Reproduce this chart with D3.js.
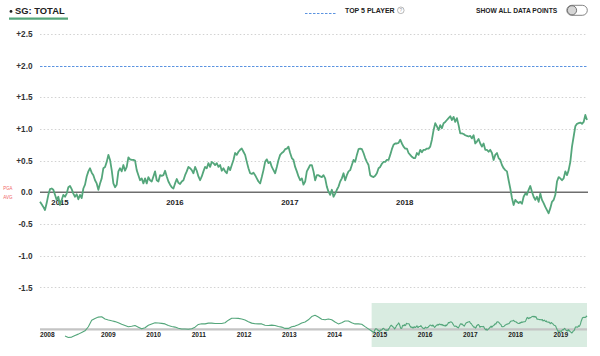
<!DOCTYPE html>
<html><head><meta charset="utf-8">
<script src="https://cdn.jsdelivr.net/npm/d3@7"></script>
<style>
html,body{margin:0;padding:0;background:#fff;}
svg{display:block;font-family:"Liberation Sans",Arial,sans-serif;}
</style></head><body>
<svg id="chart" width="600" height="356"></svg>
<script>
// ---- data ----
const titleText = "SG: TOTAL";
const legendText = "TOP 5 PLAYER";
const toggleText = "SHOW ALL DATA POINTS";
const yTicks = [2.5, 2.0, 1.5, 1.0, 0.5, 0.0, -0.5, -1.0, -1.5];
const top5Value = 2.0;
const pgaAvgValue = 0.0;
const mainYears = [2015, 2016, 2017, 2018];
const miniYears = [2009, 2010, 2011, 2012, 2013, 2014, 2015, 2016, 2017, 2018, 2019];
const fullRange = [2007.5, 2019.59];
const recentRange = [2014.83, 2019.59];
const historyStart = 2008.053, historyStep = 0.07368;
const historyValues = [
 -0.60,-0.74,-0.70,-0.55,-0.43,-0.28,-0.13,0.24,0.83,1.00,1.12,1.15,0.95,0.86,0.78,0.71,0.60,0.46,0.35,0.24,
 0.28,0.35,0.20,0.05,0.15,0.38,0.50,0.60,0.58,0.55,0.50,0.35,0.27,0.21,0.10,0.03,0.03,0.01,0.06,0.20,
 0.45,0.52,0.50,0.57,0.57,0.54,0.54,0.54,0.60,0.84,1.02,1.02,1.00,0.95,0.86,0.70,0.57,0.52,0.50,0.50,
 0.38,0.35,0.39,0.35,0.27,0.21,0.09,0.09,0.24,0.30,0.42,0.58,0.68,0.87,1.17,1.28,1.12,0.92,0.87,0.95,
 0.88,0.68,0.50,0.60,0.76,0.76,0.60,0.50,0.50,0.47,0.25,0.05
];
const recentValues = [
 -0.15,-0.19,-0.23,-0.28,-0.17,-0.04,0.05,0.06,0.04,-0.04,-0.12,-0.07,-0.20,-0.12,-0.04,-0.07,-0.02,0.08,0.10,0.05,
 -0.02,-0.07,-0.03,-0.11,-0.04,-0.09,0.06,0.12,0.25,0.33,0.38,0.31,0.27,0.19,0.14,0.04,0.14,0.22,0.38,0.40,
 0.48,0.59,0.51,0.35,0.14,0.08,0.12,0.33,0.38,0.33,0.43,0.34,0.40,0.55,0.52,0.51,0.51,0.50,0.35,0.27,
 0.19,0.22,0.14,0.22,0.14,0.24,0.19,0.17,0.25,0.33,0.19,0.17,0.27,0.26,0.27,0.34,0.25,0.17,0.12,0.08,
 0.06,0.14,0.21,0.15,0.13,
 0.17,0.19,0.27,0.33,0.40,0.38,0.35,0.30,0.40,0.34,0.25,0.19,0.25,0.33,0.40,0.38,0.46,0.40,0.48,0.46,
 0.43,0.46,0.40,0.43,0.34,0.38,0.33,0.30,0.40,0.35,0.43,0.51,0.62,0.59,0.64,0.67,0.69,0.64,0.59,0.48,
 0.38,0.30,0.29,0.31,0.27,0.22,0.17,0.14,0.24,0.35,0.48,0.52,0.46,0.48,0.40,0.35,0.30,0.40,0.51,0.59,
 0.62,0.64,0.68,0.69,0.72,0.62,0.54,0.51,0.40,0.33,0.25,0.19,0.22,0.12,0.17,0.33,0.38,0.43,0.43,0.33,
 0.19,0.27,0.27,0.25,
 0.24,0.27,0.22,0.09,0.01,-0.04,0.04,-0.07,-0.02,0.04,0.09,0.17,0.22,0.30,0.19,0.27,0.33,0.35,0.43,0.51,
 0.48,0.59,0.68,0.69,0.68,0.62,0.54,0.48,0.43,0.27,0.25,0.24,0.26,0.30,0.38,0.40,0.45,0.48,0.48,0.51,
 0.51,0.59,0.68,0.75,0.77,0.77,0.78,0.83,0.77,0.72,0.69,0.69,0.62,0.59,0.56,0.54,0.54,0.62,0.59,0.67,
 0.63,0.67,0.67,0.69,0.69,0.72,0.83,0.98,1.09,1.04,0.98,1.06,1.01,1.09,1.11,1.14,1.17,1.20,1.14,1.19,
 1.11,1.17,1.06,0.93,
 0.93,0.92,0.90,0.89,0.88,0.89,0.85,0.90,0.77,0.80,0.84,0.77,0.72,0.77,0.67,0.67,0.64,0.67,0.62,0.51,
 0.59,0.62,0.54,0.51,0.43,0.38,0.35,0.33,0.19,0.06,-0.09,-0.20,-0.12,-0.15,-0.17,-0.15,-0.18,-0.07,-0.02,-0.04,
 0.04,0.10,0.01,-0.07,-0.12,-0.07,-0.15,-0.02,-0.12,-0.17,-0.23,-0.28,-0.33,-0.25,-0.15,-0.12,-0.04,0.17,0.24,0.22,
 0.19,0.22,0.33,0.27,0.35,0.48,0.72,0.88,1.04,1.08,1.09,1.10,1.08,1.11,1.22,1.14
];

// ---- build series (x = fractional year) ----
const history = historyValues.map((v, i) => ({t: historyStart + i * historyStep, v}));
const recent = recentValues.map((v, i) => ({
  t: recentRange[0] + i * (recentRange[1] - recentRange[0]) / (recentValues.length - 1), v}));
const allData = history.concat(recent);

const green = "#54a67b";
const blue = "#5b93e0";
const svg = d3.select("#chart");

// ---- main chart ----
const x = d3.scaleLinear().domain(recentRange).range([40, 587]);
const y = d3.scaleLinear().domain([-1.5, 2.5]).range([287.4, 33.8]);

const grid = svg.append("g");
grid.selectAll("line").data(yTicks.filter(d => d !== top5Value && d !== pgaAvgValue)).join("line")
  .attr("x1", 40).attr("x2", 587)
  .attr("y1", d => Math.round(y(d)) + 0.5).attr("y2", d => Math.round(y(d)) + 0.5)
  .attr("stroke", "#d2d2d2").attr("stroke-width", 1).attr("stroke-dasharray", "1.5,2.2");

svg.append("line")
  .attr("x1", 40).attr("x2", 587).attr("y1", Math.round(y(top5Value)) + 0.5).attr("y2", Math.round(y(top5Value)) + 0.5)
  .attr("stroke", blue).attr("stroke-width", 1).attr("stroke-dasharray", "2.5,1.5");

const fmt = d => d === 0 ? "0.0" : (d > 0 ? "+" : "-") + Math.abs(d).toFixed(1);
const yAxis = svg.append("g").attr("transform", "translate(40,0)")
  .call(d3.axisLeft(y).tickValues(yTicks).tickFormat(fmt).tickSize(0).tickPadding(7.5));
yAxis.select(".domain").remove();
yAxis.selectAll("text").attr("font-size", 8.2).attr("font-weight", "bold").attr("fill", "#333")
  .attr("font-family", "Liberation Sans, Arial, sans-serif");

// PGA AVG label
const pga = svg.append("g").attr("fill", "#f06565").attr("font-size", 5.6);
pga.append("text").attr("x", 3.3).attr("y", y(pgaAvgValue) - 2.6).attr("textLength", 9.2)
  .attr("lengthAdjust", "spacingAndGlyphs").text("PGA");
pga.append("text").attr("x", 3.3).attr("y", y(pgaAvgValue) + 6.6).attr("textLength", 9.2)
  .attr("lengthAdjust", "spacingAndGlyphs").text("AVG");

// zero line
svg.append("line")
  .attr("x1", 40).attr("x2", 588).attr("y1", y(pgaAvgValue)).attr("y2", y(pgaAvgValue))
  .attr("stroke", "#6e6e6e").attr("stroke-width", 1.6);

// year labels
const xAxis = svg.append("g").attr("transform", `translate(0,${y(0)})`)
  .call(d3.axisBottom(x).tickValues(mainYears).tickFormat(d3.format("d")).tickSize(0).tickPadding(7.2));
xAxis.select(".domain").remove();
xAxis.selectAll("text").attr("font-size", 7.8).attr("font-weight", "bold").attr("fill", "#222")
  .attr("font-family", "Liberation Sans, Arial, sans-serif");

// main line
svg.append("path").datum(recent)
  .attr("fill", "none").attr("stroke", green).attr("stroke-width", 1.8)
  .attr("stroke-linejoin", "round")
  .attr("d", d3.line().x(d => x(d.t)).y(d => y(d.v)));

// ---- mini (context) chart ----
const xm = d3.scaleLinear().domain(fullRange).range([40, 587]);
const ym = d3.scaleLinear().domain([-1.6, 2.4]).range([347, 303]);

svg.append("rect")
  .attr("x", xm(recentRange[0])).attr("width", xm(recentRange[1]) - xm(recentRange[0]))
  .attr("y", ym(2.4)).attr("height", ym(-1.6) - ym(2.4))
  .attr("fill", "#d9ece1");

svg.append("line")
  .attr("x1", 40).attr("x2", 587).attr("y1", ym(0)).attr("y2", ym(0))
  .attr("stroke", "#c4c4c4").attr("stroke-width", 2.2);

const xmAxis = svg.append("g").attr("transform", `translate(0,${ym(0)})`)
  .call(d3.axisBottom(xm).tickValues(miniYears).tickFormat(d3.format("d")).tickSize(0).tickPadding(3.4));
xmAxis.select(".domain").remove();
xmAxis.selectAll("text").attr("font-size", 6.6).attr("font-weight", "bold").attr("fill", "#222")
  .attr("font-family", "Liberation Sans, Arial, sans-serif");
// first-year label at the start of the domain
xmAxis.append("text").attr("x", xm(fullRange[0])).attr("y", 3.4).attr("dy", "0.71em")
  .attr("text-anchor", "start").attr("font-size", 6.6).attr("font-weight", "bold").attr("fill", "#222")
  .text(Math.floor(historyStart));

svg.append("path").datum(allData)
  .attr("fill", "none").attr("stroke", green).attr("stroke-width", 1.1)
  .attr("stroke-linejoin", "round")
  .attr("d", d3.line().x(d => xm(d.t)).y(d => ym(d.v)));

// ---- header ----
const hdr = svg.append("g").attr("font-weight", "bold").attr("fill", "#222");
hdr.append("circle").attr("cx", 11).attr("cy", 11.4).attr("r", 1.4).attr("fill", "#222");
hdr.append("text").attr("x", 15).attr("y", 14.3).attr("font-size", 9.4).text(titleText);
svg.append("line").attr("x1", 9).attr("x2", 68).attr("y1", 18.6).attr("y2", 18.6)
  .attr("stroke", green).attr("stroke-width", 2.2);

svg.append("line").attr("x1", 305).attr("x2", 336).attr("y1", 13.5).attr("y2", 13.5)
  .attr("stroke", blue).attr("stroke-width", 1).attr("stroke-dasharray", "2.5,1.5");
hdr.append("text").attr("x", 345).attr("y", 12.5).attr("font-size", 7).text(legendText);
svg.append("circle").attr("cx", 400.8).attr("cy", 10.3).attr("r", 3.3)
  .attr("fill", "none").attr("stroke", "#9a9a9a").attr("stroke-width", 0.7);
svg.append("text").attr("x", 400.8).attr("y", 12.1).attr("text-anchor", "middle")
  .attr("font-size", 4.8).attr("fill", "#9a9a9a").text("?");

hdr.append("text").attr("x", 476).attr("y", 12.5).attr("font-size", 6.7).text(toggleText);
svg.append("rect").attr("x", 566.8).attr("y", 5.3).attr("width", 20.5).attr("height", 10).attr("rx", 5)
  .attr("fill", "#fff").attr("stroke", "#777").attr("stroke-width", 0.9);
svg.append("circle").attr("cx", 572).attr("cy", 10.3).attr("r", 4.6)
  .attr("fill", "#d6d6d6").attr("stroke", "#666").attr("stroke-width", 0.9);
</script>
</body></html>
